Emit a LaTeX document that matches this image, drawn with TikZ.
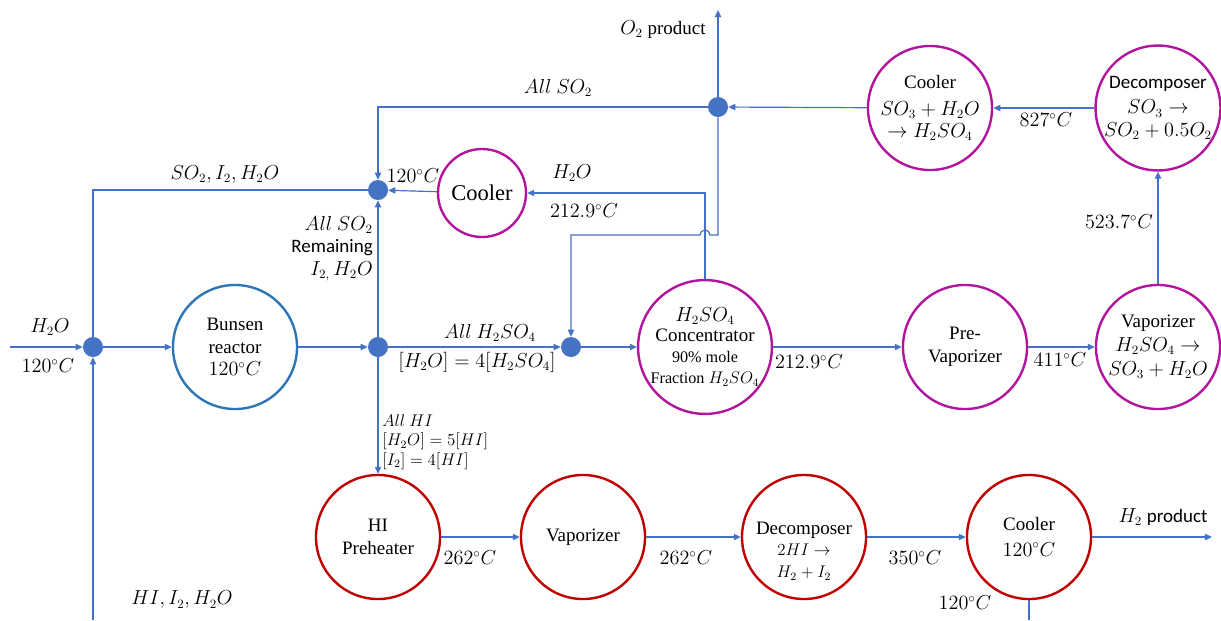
\documentclass[tikz,border=0pt]{standalone}
\usepackage{amsmath}
\usepackage{fontspec}
\setmainfont{Liberation Serif}
\newfontfamily\calfont{Carlito}
\usetikzlibrary{arrows.meta,positioning}
\definecolor{flowblue}{RGB}{68,114,196}
\definecolor{bunsenblue}{RGB}{46,117,182}
\definecolor{sulfpurple}{RGB}{178,20,158}
\definecolor{hired}{RGB}{192,0,0}
\newcommand{\degC}[1]{$#1^{\circ}C$}
\newcommand{\smallfnt}{\fontsize{11.5}{13}\selectfont}

\begin{document}
\begin{tikzpicture}[x=0.025cm, y=-0.025cm,
    font=\rmfamily\fontsize{13.5}{16}\selectfont,
    flow/.style={draw=flowblue, line width=0.85pt, -{Triangle[length=5pt,width=4.5pt]}},
    pipe/.style={draw=flowblue, line width=0.85pt},
    unit/.style={circle, draw, line width=1.7pt, minimum size=3.1cm, inner sep=0pt, align=center},
    bunsen/.style={unit, draw=bunsenblue},
    sulf/.style={unit, draw=sulfpurple},
    hiloop/.style={unit, draw=hired},
    mix/.style={circle, fill=flowblue, inner sep=0pt, minimum size=0.5cm}]
    \useasboundingbox (0,0) rectangle (1221,620);

    % mixing points
    \node[mix] (j1) at (93,347) {};
    \node[mix] (j2) at (378,190) {};
    \node[mix] (j3) at (378,347) {};
    \node[mix] (j4) at (571,347) {};
    \node[mix] (j5) at (718,107) {};

    % sulfuric acid section
    \node[bunsen] (bunsen) at (235,347) {Bunsen\\reactor\\\degC{120}};
    \node[sulf, minimum size=2.2cm] (wcool) at (482,193) {\fontsize{16}{18}\selectfont Cooler};
    \node[sulf, minimum size=3.2cm] (conc) at (705,347)
        {$H_2SO_4$\\[-2pt]Concentrator\\[-1pt]\smallfnt 90\% mole\\[-1pt]\smallfnt Fraction $H_2SO_4$};
    \node[sulf] (prevap) at (965,347) {Pre-\\Vaporizer};
    \node[sulf] (svap) at (1158,347) {Vaporizer\\[1pt]$H_2SO_4\rightarrow$\\[1pt]$SO_3+H_2O$};
    \node[sulf] (sdec) at (1158,108) {{\calfont Decomposer}\\[2pt]$SO_3\rightarrow$\\$SO_2+0.5O_2$};
    \node[sulf] (scool) at (930,108) {Cooler\\[3pt]$SO_3+H_2O$\\$\rightarrow H_2SO_4$};

    % HI section
    \node[hiloop] (preheat) at (378,537) {HI\\Preheater};
    \node[hiloop] (hvap) at (583,537) {Vaporizer};
    \node[hiloop] (hdec) at (804,537) {};
    \node[align=center, inner sep=0pt] (hdectext) at (804,551)
        {Decomposer\\[-1pt]\smallfnt$2HI\rightarrow$\\\smallfnt$H_2+I_2$};
    \node[hiloop] (hcool) at (1029,537) {Cooler\\[2pt]\degC{120}};

    % free ends
    \coordinate (h2oin) at (10,347);
    \coordinate (hiin) at (93,620);
    \coordinate (o2out) at (718,10);
    \coordinate (h2out) at (1212,537);
    \coordinate (hiout) at (1029,620);

    % streams
    \draw[flow] (h2oin) -- (j1);
    \draw[flow] (hiin) -- (j1);
    \draw[pipe] (j2) -| (j1);
    \draw[flow] (j1) -- (bunsen);
    \draw[flow] (bunsen) -- (j3);
    \draw[flow] (j3) -- (j2);
    \draw[flow] (j3) -- (j4);
    \draw[flow] (j4) -- (conc);
    \draw[flow] (j3) -- (preheat);
    \draw[flow] (wcool) -- (j2);
    \draw[flow] (conc) |- (wcool);
    \draw[flow] (conc) -- (prevap);
    \draw[flow] (prevap) -- (svap);
    \draw[flow] (svap) -- (sdec);
    \draw[flow] (sdec) -- (scool);
    \draw[flow] (scool) -- (j5);
    \draw[flow] (j5) -- (o2out);
    \draw[flow] (j5) -| (j2);
    \draw[flow] (j5) -- (718,235) -- (710,235)
        arc[start angle=0, end angle=-180, radius=5] -- (571,235) -- (j4);
    \draw[flow] (preheat) -- (hvap);
    \draw[flow] (hvap) -- (hdec);
    \draw[flow] (hdec) -- (hcool);
    \draw[flow] (hcool) -- (h2out);
    \draw[pipe] (hcool) -- (hiout);

    % stream labels
    \node (lh2oin) at (50,327) {$H_2O$};
    \node (ltin) at (48,366) {\degC{120}};
    \node (lrecyc) at (225,175) {$SO_2, I_2, H_2O$};
    \node (lhiin) at (182,600) {$HI, I_2, H_2O$};
    \node (ltmix) at (413,176) {\degC{120}};
    \node[anchor=north east, align=right, inner sep=0pt] (lup) at (373,216)
        {$All\ SO_2$\\{\calfont Remaining}\\$I_{2,}\,H_2O$};
    \node (lso2) at (558,88) {$All\ SO_2$};
    \node (lo2) at (663,30) {$O_2$ product};
    \node (lwater) at (572,173) {$H_2O$};
    \node (ltwater) at (584,211) {\degC{212.9}};
    \node (lacid) at (490,333) {$All\ H_2SO_4$};
    \node (lratio) at (477,362) {$[H_2O]=4[H_2SO_4]$};
    \node[anchor=north west, align=left, inner sep=0pt] (lhi) at (382,414)
        {\smallfnt$All\ HI$\\[-2pt]\smallfnt$[H_2O]=5[HI]$\\[-2pt]\smallfnt$[I_2]=4[HI]$};
    \node (lt1) at (809,362) {\degC{212.9}};
    \node (lt2) at (1060,360) {\degC{411}};
    \node (lt3) at (1119,222) {\degC{523.7}};
    \node (lt4) at (1046,120) {\degC{827}};
    \node (lt5) at (470,558) {\degC{262}};
    \node (lt6) at (686,558) {\degC{262}};
    \node (lt7) at (915,558) {\degC{350}};
    \node (lh2) at (1163,517) {$H_2$ {\calfont product}};
    \node (lt8) at (965,603) {\degC{120}};
\end{tikzpicture}
\end{document}
